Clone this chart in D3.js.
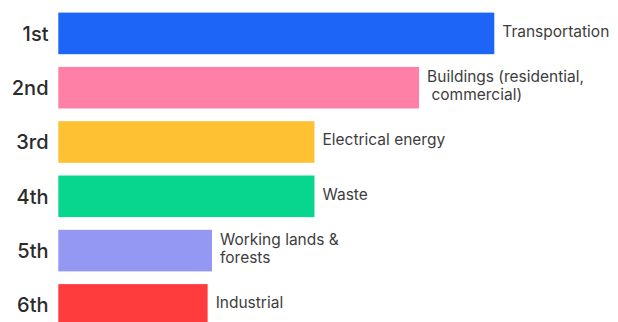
<!DOCTYPE html>
<html><head><meta charset="utf-8">
<script src="https://cdn.jsdelivr.net/npm/d3@7"></script>
<style>html,body{margin:0;padding:0;background:#fff;overflow:hidden}</style>
</head><body><svg id="c" width="618" height="322"></svg>
<script>
const ranks = ["1st","2nd","3rd","4th","5th","6th"];
const categories = [["Transportation"],["Buildings (residential,"," commercial)"],["Electrical energy"],["Waste"],["Working lands &","forests"],["Industrial"]];
const values = [40, 33.1, 23.5, 23.5, 14.1, 13.7];
const colors = ["#1c65f6","#fe80a6","#fdc133","#08d68f","#9598f2","#ff3c3d"];

const svg = d3.select("#c");
const x = d3.scaleLinear().domain([0, 40]).range([58.3, 494.3]);
const y = d3.scaleBand().domain(ranks).range([12.6, 325.7]).paddingInner(0.234).paddingOuter(0).align(0);

svg.selectAll("rect.bar").data(ranks).join("rect")
  .attr("x", x(0)).attr("y", d => y(d))
  .attr("width", (d,i) => x(values[i]) - x(0))
  .attr("height", y.bandwidth())
  .attr("fill", (d,i) => colors[i]);

svg.selectAll("text.rank").data(ranks).join("text")
  .attr("x", 48.5).attr("y", d => y(d) + y.bandwidth()/2 + 7.5)
  .attr("text-anchor","end")
  .attr("font-family","Inter, sans-serif").attr("font-weight",500).attr("font-size",20)
  .attr("fill","#2b2b2b").text(d => d);

const lh = 18.5;
const lbl = svg.selectAll("text.cat").data(ranks).join("text")
  .attr("font-family","Inter, sans-serif").attr("font-size",15.5).attr("fill","#3d3d3d")
  .attr("x", (d,i) => x(values[i]) + 8)
  .attr("y", (d,i) => y(d) + y.bandwidth()/2 + 3.5 - (categories[i].length-1)*lh/2);
lbl.each(function(d,i){
  const t = d3.select(this);
  categories[i].forEach((line,j) => {
    t.append("tspan").attr("x", x(values[i]) + 8).attr("dy", j===0?0:lh).attr("xml:space","preserve").text(line);
  });
});
</script></body></html>
